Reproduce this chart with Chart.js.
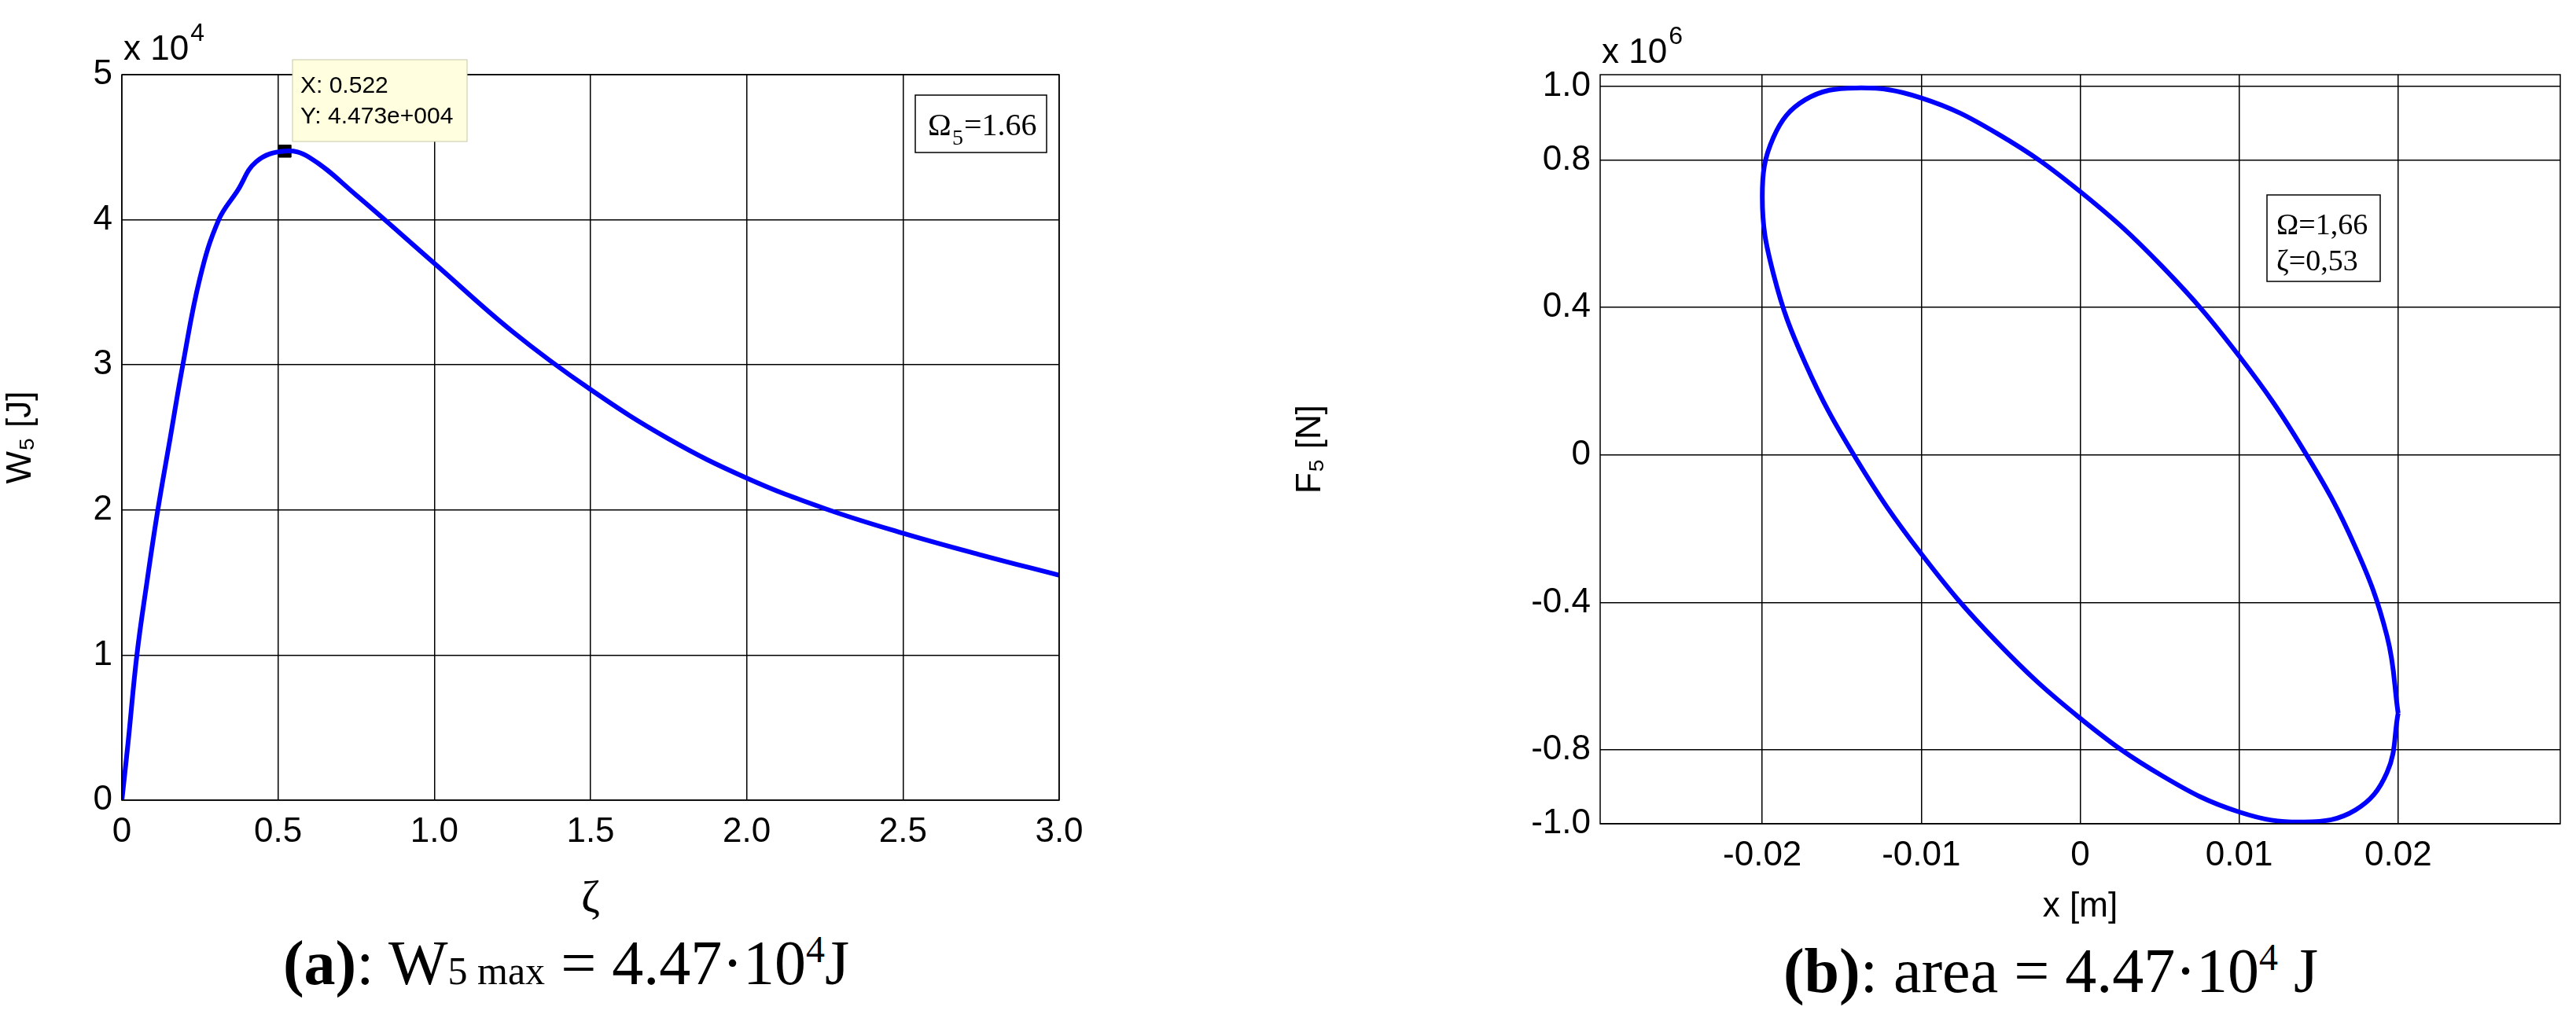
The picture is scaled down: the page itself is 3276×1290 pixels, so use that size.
<!DOCTYPE html>
<html>
<head>
<meta charset="utf-8">
<script src="https://cdn.jsdelivr.net/npm/chart.js@4/dist/chart.umd.min.js"></script>
<style>
  body { margin: 0; background: #fff; width: 3276px; height: 1290px; position: relative; overflow: hidden; }
  .box { position: absolute; }
  .cap { position: absolute; font-family: "Liberation Serif", serif; font-size: 80px; white-space: nowrap; transform: translateX(-50%); }
  .cap sub, .cap sup { font-size: 48px; }
</style>
</head>
<body>
<div class="box" style="left:0;top:0;width:1400px;height:1180px"><canvas id="energyChart"></canvas></div>
<div class="box" style="left:1640px;top:0;width:1636px;height:1180px"><canvas id="loopChart"></canvas></div>
<div class="cap" style="left:720px;top:1180px"><b>(a)</b>: W<span style="font-size:50px">5 max</span> = 4.47·10<sup>4</sup>J</div>
<div class="cap" style="left:2608px;top:1190px"><b>(b)</b>: area = 4.47·10<sup>4</sup> J</div>
<script>
// (a) W5 vs zeta, values in 1e4 J
const zeta = [0, 0.02, 0.048, 0.08, 0.115, 0.155, 0.195, 0.25, 0.31, 0.37, 0.43, 0.522, 0.6, 0.75, 1.0, 1.25, 1.5, 1.75, 2.0, 2.25, 2.5, 2.75, 3.0];
const energy = [0, 0.4, 1.0, 1.5, 2.0, 2.5, 3.0, 3.6, 4.0, 4.2, 4.4, 4.473, 4.43, 4.17, 3.7, 3.23, 2.83, 2.49, 2.22, 2.01, 1.84, 1.69, 1.55];
const peak = { x: 0.522, y: 4.473 };
const energyYTicks = [0, 1, 2, 3, 4, 5];
const energyXTicks = [0, 0.5, 1, 1.5, 2, 2.5, 3];

// (b) hysteresis loop, x in m, F in 1e6 N
const loopX = [0.02, 0.0193, 0.0173, 0.0141, 0.010, 0.0052, 0, -0.0052, -0.010, -0.0141, -0.0173, -0.0193, -0.02,
               -0.0193, -0.0173, -0.0141, -0.010, -0.0052, 0, 0.0052, 0.010, 0.0141, 0.0173, 0.0193, 0.02];
const loopF = [-0.70, -0.491, -0.249, 0.010, 0.268, 0.509, 0.714, 0.871, 0.968, 0.995, 0.963, 0.861, 0.70,
               0.491, 0.249, -0.010, -0.268, -0.509, -0.714, -0.871, -0.968, -0.995, -0.963, -0.861, -0.70];
const loopYTicks = [-1, -0.8, -0.4, 0, 0.4, 0.8, 1];
const loopXTicks = [-0.02, -0.01, 0, 0.01, 0.02];

const SANS = "'Liberation Sans', Arial, sans-serif";
const SERIF = "'Liberation Serif', serif";
const BLUE = "#0000ff";

function gridOpts() {
  return { color: "#000", lineWidth: 1.5, tickLength: 0, drawTicks: false };
}
function borderOpts() {
  return { display: true, color: "#000", width: 1.5, dash: [14, 12] };
}
function fixedTicks(list) {
  return (scale) => { scale.ticks = list.map((v) => ({ value: v })); };
}

// frame box + texts drawn relative to the chart area
function overlay(draw) {
  return {
    id: "overlay",
    afterDraw(chart) {
      const { ctx, chartArea: a } = chart;
      ctx.save();
      ctx.setLineDash([]);
      ctx.strokeStyle = "#000";
      ctx.lineWidth = 1.5;
      ctx.strokeRect(a.left, a.top, a.right - a.left, a.bottom - a.top);
      draw(ctx, a, chart);
      ctx.restore();
    },
  };
}

function exponent(ctx, x, y, base, exp) {
  ctx.fillStyle = "#000";
  ctx.textAlign = "left";
  ctx.textBaseline = "alphabetic";
  ctx.font = "44px " + SANS;
  ctx.fillText(base, x, y);
  const w = ctx.measureText(base).width;
  ctx.font = "32px " + SANS;
  ctx.fillText(exp, x + w + 2, y - 24);
}

function lineCfg(data, extraDatasets, xs, ys, xTicks, yTicks, xTitle, yTitle, xTitleFont) {
  return {
    type: "scatter",
    data: {
      datasets: [
        { data, showLine: true, borderColor: BLUE, borderWidth: 6, pointRadius: 0, tension: 0.4 },
        ...extraDatasets,
      ],
    },
    options: {
      responsive: true,
      maintainAspectRatio: false,
      animation: false,
      plugins: { legend: { display: false }, tooltip: { enabled: false } },
      scales: {
        x: {
          min: xs[0], max: xs[1],
          afterBuildTicks: fixedTicks(xTicks),
          grid: gridOpts(), border: { display: false },
          ticks: { color: "#000", font: { family: SANS, size: 44 }, padding: 14, maxRotation: 0 },
          title: { display: true, text: xTitle, color: "#000", font: xTitleFont, padding: 0 },
        },
        y: {
          min: ys[0], max: ys[1],
          afterBuildTicks: fixedTicks(yTicks),
          grid: gridOpts(), border: { display: false },
          ticks: { color: "#000", font: { family: SANS, size: 44 }, padding: 12 },
          title: { display: true, text: yTitle, color: "#000", font: { family: SANS, size: 44 }, padding: 0 },
        },
      },
    },
  };
}

// dashed grid
Chart.defaults.scale.grid.borderDash = [14, 12];
Chart.register({
  id: "dashGrid",
  beforeDatasetsDraw() {},
});

const energyCfg = lineCfg(
  zeta.map((z, i) => ({ x: z, y: energy[i] })),
  [{ data: [peak], pointStyle: "rect", pointRadius: 11, backgroundColor: "#000", borderColor: "#000", showLine: false }],
  [0, 3], [0, 5], energyXTicks, energyYTicks, "ζ", "W₅ [J]", { family: SERIF, size: 58 }
);
energyCfg.options.layout = { padding: { top: 95, right: 53 } };
energyCfg.options.scales.y.afterFit = (s) => { s.width = 155; };
energyCfg.options.scales.x.afterFit = (s) => { s.height = 1180 - 1018 - 95 + 95; };
energyCfg.options.scales.x.grid.borderDash = [14, 12];
energyCfg.options.scales.y.grid.borderDash = [14, 12];
energyCfg.plugins = [overlay((ctx, a, chart) => {
  exponent(ctx, a.left + 2, 76, "x 10", "4");
  // value label box
  ctx.fillStyle = "#ffffe0";
  ctx.strokeStyle = "#c8c8a8";
  ctx.lineWidth = 1;
  ctx.fillRect(372, 76, 222, 104);
  ctx.strokeRect(372, 76, 222, 104);
  ctx.fillStyle = "#000";
  ctx.font = "30px " + SANS;
  ctx.fillText("X: 0.522", 382, 118);
  ctx.fillText("Y: 4.473e+004", 382, 157);
  // legend box
  ctx.fillStyle = "#fff";
  ctx.fillRect(1164, 121, 167, 73);
  ctx.strokeStyle = "#000";
  ctx.lineWidth = 1.5;
  ctx.strokeRect(1164, 121, 167, 73);
  ctx.fillStyle = "#000";
  ctx.font = "40px " + SERIF;
  ctx.fillText("Ω", 1180, 172);
  ctx.font = "28px " + SERIF;
  ctx.fillText("5", 1211, 184);
  ctx.font = "40px " + SERIF;
  ctx.fillText("=1.66", 1226, 172);
})];
new Chart(document.getElementById("energyChart"), energyCfg);

const loopCfg = lineCfg(
  loopX.map((x, i) => ({ x, y: loopF[i] })),
  [],
  [-0.0302, 0.0302], [-1, 1.031], loopXTicks, loopYTicks, "x [m]", "F₅ [N]", { family: SANS, size: 44 }
);
loopCfg.options.layout = { padding: { top: 95, right: 1636 - (3256 - 1640) } };
loopCfg.options.scales.y.afterFit = (s) => { s.width = 2035 - 1640; };
loopCfg.options.scales.y.title.padding = { top: 0, bottom: 60 };
loopCfg.options.scales.x.afterFit = (s) => { s.height = 1180 - 1048; };
loopCfg.options.scales.x.grid.borderDash = [14, 12];
loopCfg.options.scales.y.grid.borderDash = [14, 12];
loopCfg.plugins = [overlay((ctx) => {
  exponent(ctx, 2037 - 1640, 80, "x 10", "6");
  const bx = 2883 - 1640;
  ctx.fillStyle = "#fff";
  ctx.fillRect(bx, 248, 144, 110);
  ctx.strokeStyle = "#000";
  ctx.lineWidth = 1.5;
  ctx.strokeRect(bx, 248, 144, 110);
  ctx.fillStyle = "#000";
  ctx.font = "38px " + SERIF;
  ctx.fillText("Ω=1,66", bx + 12, 298);
  ctx.fillText("ζ=0,53", bx + 12, 344);
})];
new Chart(document.getElementById("loopChart"), loopCfg);
</script>
</body>
</html>
